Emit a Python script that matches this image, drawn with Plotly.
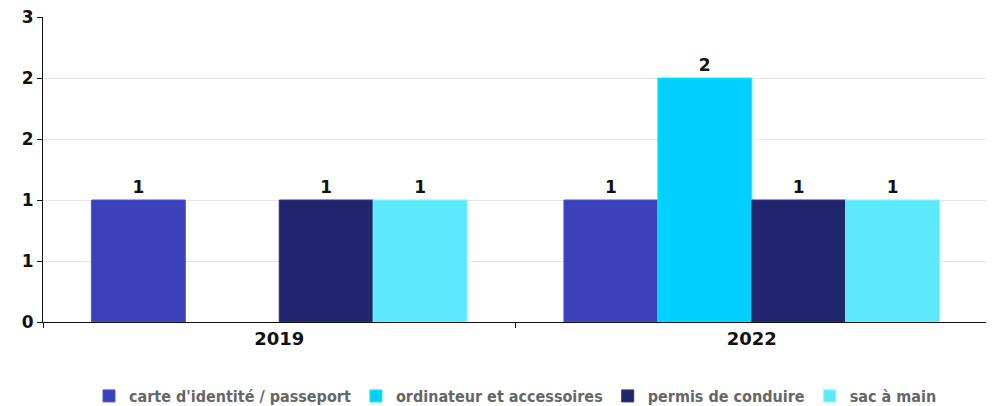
import plotly.graph_objects as go

years = ["2019", "2022"]
series_names = [
    "carte d'identité / passeport",
    "ordinateur et accessoires",
    "permis de conduire",
    "sac à main",
]
series_values = [
    [1, 1],
    [None, 2],
    [1, 1],
    [1, 1],
]
series_colors = ["#3b41b8", "#00d0ff", "#21256e", "#5ee8fc"]
edge_colors = ["#4a52f0", "#00f4ff", "#2a2f8c", "#7cfbff"]

ytick_vals = [0, 0.5, 1, 1.5, 2, 2.5]
ytick_text = ["0", "1", "1", "2", "2", "3"]

fig = go.Figure()
for name, vals, color, edge in zip(series_names, series_values, series_colors, edge_colors):
    fig.add_trace(
        go.Bar(
            x=years,
            y=vals,
            name=name,
            marker=dict(color=color, line=dict(color=edge, width=1)),
            text=[None if v is None else str(v) for v in vals],
            textposition="outside",
            textfont=dict(family="DejaVu Sans", size=17, color="#111111", weight="bold"),
            cliponaxis=False,
        )
    )

# the page body keeps its 8px margin, so the figure is sized to fill the rest of the window
fig.update_layout(
    width=986,
    height=398,
    margin=dict(l=35, r=6, t=9, b=84, autoexpand=False),
    paper_bgcolor="white",
    plot_bgcolor="white",
    barmode="group",
    bargap=0.205,
    bargroupgap=0,
    font=dict(family="DejaVu Sans", size=13, color="#111111"),
    showlegend=True,
    legend=dict(
        orientation="h",
        x=0.5,
        xanchor="center",
        y=-0.187,
        yanchor="top",
        font=dict(family="DejaVu Sans Condensed, DejaVu Sans", size=16, color="#666666", weight="bold"),
        tracegroupgap=0,
    ),
)
fig.update_xaxes(
    showline=True,
    linecolor="#111111",
    linewidth=1,
    ticks="outside",
    tickson="boundaries",
    ticklen=5,
    tickcolor="#111111",
    tickfont=dict(family="DejaVu Sans", size=18, color="#111111", weight="bold"),
    showgrid=False,
    automargin=False,
)
fig.update_yaxes(
    range=[0, 2.5],
    tickvals=ytick_vals,
    ticktext=ytick_text,
    showline=True,
    linecolor="#111111",
    linewidth=1,
    ticks="outside",
    ticklen=5,
    tickcolor="#111111",
    tickfont=dict(family="DejaVu Sans", size=17, color="#111111", weight="bold"),
    ticklabeloverflow="allow",
    showgrid=True,
    gridcolor="#e6e6e6",
    zeroline=False,
    automargin=False,
)

fig.write_html("out.html")
